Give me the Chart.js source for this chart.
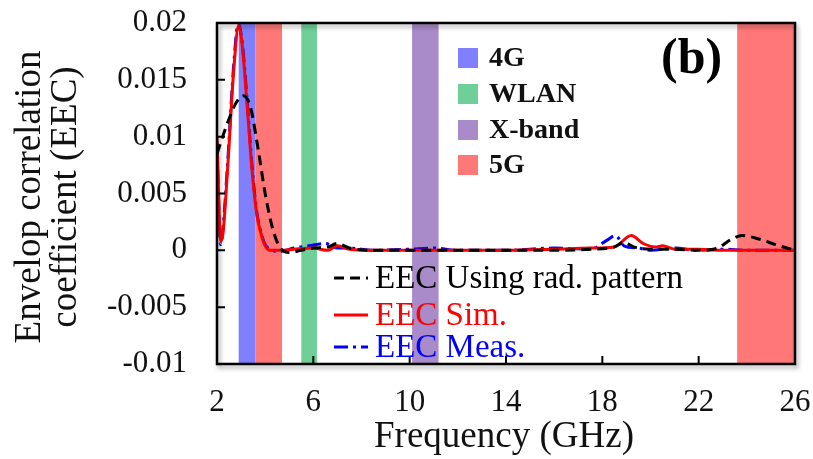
<!DOCTYPE html>
<html>
<head>
<meta charset="utf-8">
<script src="https://cdn.jsdelivr.net/npm/chart.js@4"></script>
<style>
  html, body { margin: 0; padding: 0; background: #fff; }
  canvas { display: block; }
</style>
</head>
<body>
<canvas id="eecChart" width="813" height="459"></canvas>
<script>
// x ticks (GHz) and y ticks
const freqTicks = [2, 6, 10, 14, 18, 22, 26];
const eecTicks = [-0.01, -0.005, 0, 0.005, 0.01, 0.015, 0.02];

// EEC Using rad. pattern (black dashed)
const radFreq = [2.0, 2.4, 2.8, 3.1, 3.4, 3.7, 4.0, 4.3, 4.6, 5.0, 5.5, 6.0, 6.6, 7.0, 7.5, 8.5, 10, 12, 14, 16, 17.5, 18.5, 18.9, 19.3, 20, 21, 22, 22.8, 23.3, 23.8, 24.5, 25.2, 26];
const radEec = [0.0085, 0.011, 0.013, 0.0136, 0.0125, 0.009, 0.005, 0.002, 0.0003, -0.0002, 0.0, 0.0002, 0.0003, 0.0006, 0.0002, 0.0, 0.0, 0.0, 0.0, 0.0, 0.0001, 0.0003, 0.0007, 0.0003, 0.0001, 0.0001, 0.0, 0.0002, 0.0009, 0.0013, 0.001, 0.0005, 0.0];

// EEC Sim. (red solid)
const simFreq = [2.0, 2.08, 2.15, 2.25, 2.45, 2.7, 2.9, 3.05, 3.25, 3.45, 3.65, 3.85, 4.0, 4.2, 4.6, 5.2, 6.0, 6.6, 7.0, 7.5, 8.5, 10, 12, 14, 16, 17.5, 18.5, 19.2, 19.7, 20.2, 20.5, 21, 22, 23, 24, 26];
const simEec = [0.01, 0.004, 0.0008, 0.0015, 0.0075, 0.016, 0.0198, 0.018, 0.0128, 0.0072, 0.0032, 0.0013, 0.0004, 0.0, 0.0, 0.0001, 0.0002, 0.0, 0.0004, 0.0001, 0.0, 0.0, 0.0, 0.0, 0.0001, 0.0002, 0.0003, 0.0013, 0.0006, 0.0003, 0.0004, 0.0001, 0.0001, 0.0, 0.0, 0.0];

// EEC Meas. (blue dash-dot)
const measFreq = [2.0, 2.08, 2.15, 2.25, 2.45, 2.7, 2.88, 3.05, 3.25, 3.45, 3.65, 3.85, 4.0, 4.2, 4.6, 5.2, 5.8, 6.5, 7.0, 7.5, 8.5, 10, 11, 12, 14, 16, 17.5, 18.2, 18.55, 18.9, 19.5, 20, 21, 22, 23, 24, 26];
const measEec = [0.0095, 0.0035, 0.0005, 0.002, 0.008, 0.0165, 0.02, 0.0182, 0.0132, 0.0075, 0.0034, 0.0014, 0.0005, 0.0001, -0.0001, 0.0002, 0.0004, 0.0006, 0.0002, 0.0002, 0.0, 0.0001, 0.0002, 0.0, 0.0, 0.0002, 0.0001, 0.0009, 0.0013, 0.0004, 0.0002, 0.0, 0.0002, 0.0, 0.0001, 0.0, 0.0];

// frequency bands (GHz)
const bandLabel = ['4G', 'WLAN', 'X-band', '5G', '5G'];
const bandStart = [2.9, 5.5, 10.1, 3.6, 23.6];
const bandEnd = [3.6, 6.15, 11.2, 4.7, 26];
const bandColor = ['#7f7fff', '#6fcf98', '#a98bc9', '#ff7777', '#ff7777'];

const serif = '"Liberation Serif", "Times New Roman", serif';

const toPoints = (xs, ys) => xs.map((x, i) => ({ x: x, y: ys[i] }));

// bands behind the curves
const bandsPlugin = {
  id: 'bands',
  beforeDatasetsDraw(chart) {
    const { ctx, chartArea, scales } = chart;
    ctx.save();
    for (let i = 0; i < bandStart.length; i++) {
      const x0 = scales.x.getPixelForValue(bandStart[i]);
      const x1 = scales.x.getPixelForValue(bandEnd[i]);
      ctx.fillStyle = bandColor[i];
      ctx.fillRect(x0, chartArea.top, x1 - x0, chartArea.bottom - chartArea.top);
    }
    ctx.restore();
  }
};

// frame, inward ticks, legends, titles
const decorPlugin = {
  id: 'decor',
  afterDraw(chart) {
    const { ctx, chartArea, scales } = chart;
    const { left, right, top, bottom } = chartArea;
    ctx.save();

    // frame with a soft shadow
    ctx.shadowColor = 'rgba(0,0,0,0.35)';
    ctx.shadowBlur = 4;
    ctx.shadowOffsetX = 2;
    ctx.shadowOffsetY = 3;
    ctx.strokeStyle = '#000';
    ctx.lineWidth = 2.5;
    ctx.strokeRect(left, top, right - left, bottom - top);
    ctx.shadowColor = 'transparent';

    // inward ticks
    ctx.lineWidth = 2;
    ctx.beginPath();
    freqTicks.slice(1, -1).forEach(f => {
      const x = scales.x.getPixelForValue(f);
      ctx.moveTo(x, bottom);
      ctx.lineTo(x, bottom - 8);
    });
    eecTicks.slice(1, -1).forEach(v => {
      const y = scales.y.getPixelForValue(v);
      ctx.moveTo(left, y);
      ctx.lineTo(left + 8, y);
    });
    ctx.stroke();

    // band legend
    const bandItems = [0, 1, 2, 3];
    const bandRows = [58, 94, 130, 165];
    ctx.font = 'bold 28px ' + serif;
    ctx.textBaseline = 'middle';
    ctx.textAlign = 'left';
    bandItems.forEach((b, i) => {
      ctx.fillStyle = bandColor[b];
      ctx.fillRect(458, bandRows[i] - 10, 20, 20);
      ctx.fillStyle = '#111';
      ctx.fillText(bandLabel[b], 489, bandRows[i] + 1);
    });

    // panel label
    ctx.font = 'bold 50px ' + serif;
    ctx.fillStyle = '#000';
    ctx.fillText('(b)', 661, 60);

    // line legend
    const ds = chart.data.datasets;
    const rows = [278, 315, 347];
    ctx.font = '33px ' + serif;
    ds.forEach((d, i) => {
      ctx.strokeStyle = d.borderColor;
      ctx.lineWidth = 3;
      ctx.setLineDash(d.borderDash || []);
      ctx.beginPath();
      ctx.moveTo(334, rows[i]);
      ctx.lineTo(368, rows[i]);
      ctx.stroke();
      ctx.setLineDash([]);
      ctx.fillStyle = d.legendText;
      ctx.fillText(d.label, 375, rows[i] + 1);
    });

    // axis titles
    ctx.fillStyle = '#111';
    ctx.font = '37px ' + serif;
    ctx.textAlign = 'center';
    ctx.fillText('Frequency (GHz)', 504, 437);
    ctx.translate(48, 197);
    ctx.rotate(-Math.PI / 2);
    ctx.fillText('Envelop correlation', 0, -18);
    ctx.fillText('coefficient (EEC)', 0, 18);
    ctx.restore();
  }
};

new Chart(document.getElementById('eecChart'), {
  type: 'line',
  data: {
    datasets: [
      {
        label: 'EEC Using rad. pattern',
        data: toPoints(radFreq, radEec),
        borderColor: '#000',
        legendText: '#000',
        borderWidth: 3,
        borderDash: [10, 6],
        pointRadius: 0,
        cubicInterpolationMode: 'monotone'
      },
      {
        label: 'EEC Sim.',
        data: toPoints(simFreq, simEec),
        borderColor: '#ff0000',
        legendText: '#ff0000',
        borderWidth: 3,
        pointRadius: 0,
        cubicInterpolationMode: 'monotone'
      },
      {
        label: 'EEC Meas.',
        data: toPoints(measFreq, measEec),
        borderColor: '#0000ff',
        legendText: '#0000ff',
        borderWidth: 3,
        borderDash: [14, 5, 3, 5],
        pointRadius: 0,
        cubicInterpolationMode: 'monotone'
      }
    ]
  },
  options: {
    responsive: false,
    animation: false,
    layout: { padding: { top: 23, right: 18, left: 0, bottom: 0 } },
    plugins: {
      legend: { display: false },
      tooltip: { enabled: false }
    },
    scales: {
      x: {
        type: 'linear',
        min: 2,
        max: 26,
        afterBuildTicks: s => { s.ticks = freqTicks.map(v => ({ value: v })); },
        ticks: { color: '#111', font: { family: serif, size: 31 }, padding: 20, maxRotation: 0 },
        grid: { display: false, drawTicks: false },
        border: { display: false },
        afterFit: s => { s.height = 95; s.paddingLeft = 0; s.paddingRight = 0; }
      },
      y: {
        min: -0.01,
        max: 0.02,
        afterBuildTicks: s => { s.ticks = eecTicks.map(v => ({ value: v })); },
        ticks: {
          color: '#111',
          font: { family: serif, size: 31 },
          padding: 30,
          callback: v => String(Number(v.toFixed(3)))
        },
        grid: { display: false, drawTicks: false },
        border: { display: false },
        afterFit: s => { s.width = 217; s.paddingTop = 0; s.paddingBottom = 0; }
      }
    }
  },
  plugins: [bandsPlugin, decorPlugin]
});
</script>
</body>
</html>
